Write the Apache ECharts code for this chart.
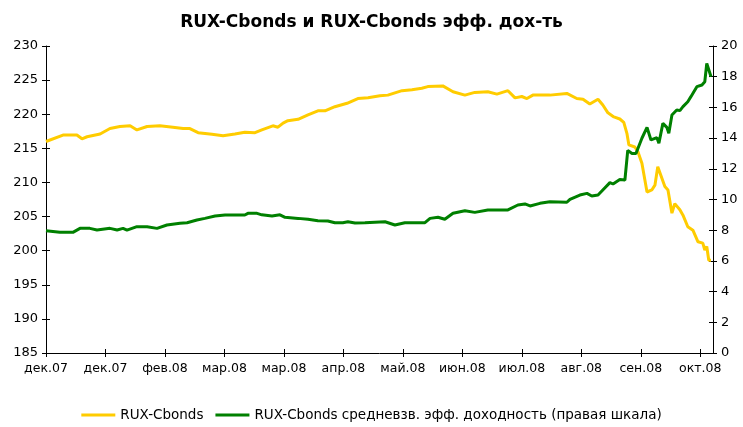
<!DOCTYPE html>
<html>
<head>
<meta charset="utf-8">
<script src="https://cdn.jsdelivr.net/npm/echarts@6/dist/echarts.min.js"></script>
<style>
  html, body { margin: 0; padding: 0; background: #fff; }
  #main { width: 743px; height: 427px; }
</style>
</head>
<body>
<div id="main"></div>
<script>
// подписи оси X (каждые 21 торговый день)
var monthLabels = ['дек.07', 'дек.07', 'фев.08', 'мар.08', 'мар.08', 'апр.08', 'май.08', 'июн.08', 'июл.08', 'авг.08', 'сен.08', 'окт.08']

// RUX-Cbonds (левая шкала): день, значение
var ruxDays = [0, 6.0, 10.9, 12.7, 14.5, 19.1, 22.6, 26.1, 29.7, 32.1, 35.7, 40.2, 44.8, 48.4, 50.8, 53.7, 58.6, 62.5, 66.7, 70.2,
  73.8, 76.2, 80.1, 81.9, 83.7, 85.4, 89.0, 92.5, 96.0, 98.5, 102.0, 106.3, 110.1, 113.7, 117.9, 120.7, 125.7, 129.2, 132.7, 134.8,
  140.1, 143.7, 147.9, 151.4, 156.0, 159.2, 163.1, 165.6, 168.0, 169.8, 171.9, 177.9, 183.9, 187.4, 189.6, 192.0, 194.9, 196.6, 198.4, 200.5,
  202.6, 204.0, 205.1, 205.8, 207.9, 209.0, 210.4, 212.2, 213.9, 215.0, 216.0, 218.5, 219.6, 221.0, 222.0, 223.8, 224.9, 226.6, 228.4, 230.2,
  231.9, 232.6, 233.3, 234.0, 234.8]
var ruxValues = [216.0, 216.95, 216.95, 216.4, 216.7, 217.1, 217.9, 218.2, 218.3, 217.7, 218.2, 218.3, 218.1, 217.9, 217.9, 217.3, 217.05, 216.85, 217.1, 217.35,
  217.3, 217.7, 218.3, 218.1, 218.7, 219.05, 219.25, 219.9, 220.5, 220.5, 221.1, 221.6, 222.3, 222.4, 222.7, 222.8, 223.45, 223.6, 223.8, 224.05,
  224.15, 223.3, 222.8, 223.2, 223.3, 222.95, 223.45, 222.4, 222.6, 222.3, 222.8, 222.8, 223.05, 222.3, 222.2, 221.5, 222.2, 221.35, 220.2, 219.6,
  219.3, 218.8, 217.2, 215.5, 215.2, 214.5, 212.8, 208.6, 208.9, 209.6, 212.3, 209.4, 208.9, 205.5, 206.9, 206.0, 205.2, 203.5, 203.0, 201.3,
  201.1, 200.1, 200.6, 198.6, 198.6]

// средневзв. эфф. доходность (правая шкала)
var yieldDays = [0, 4.9, 9.5, 12.0, 15.5, 18.0, 22.6, 25.1, 27.2, 28.6, 32.1, 35.7, 39.2, 42.7, 47.3, 49.8, 53.3, 56.1, 59.7, 63.2,
  70.2, 71.3, 74.5, 76.2, 79.8, 82.6, 84.4, 89.0, 92.5, 96.0, 99.5, 102.0, 104.8, 106.6, 109.1, 112.6, 119.7, 123.2, 126.7, 133.8,
  135.6, 138.4, 140.8, 143.7, 147.9, 151.4, 156.0, 163.1, 166.6, 169.1, 170.9, 174.4, 177.9, 183.9, 185.0, 188.5, 191.0, 192.7, 194.9, 196.6,
  199.1, 200.2, 202.6, 204.4, 205.4, 206.9, 208.3, 210.4, 212.2, 213.6, 214.3, 215.7, 216.4, 217.8, 219.2, 219.9, 221.0, 222.7, 223.8, 224.9,
  226.6, 227.7, 228.4, 229.8, 231.6, 232.6, 233.3, 234.8]
var yieldValues = [7.97, 7.86, 7.86, 8.12, 8.12, 8.01, 8.12, 8.01, 8.12, 8.0, 8.23, 8.23, 8.12, 8.34, 8.45, 8.49, 8.66, 8.77, 8.92, 8.99,
  8.99, 9.1, 9.1, 9.0, 8.92, 9.0, 8.84, 8.77, 8.71, 8.62, 8.6, 8.49, 8.49, 8.55, 8.47, 8.49, 8.55, 8.34, 8.49, 8.49,
  8.77, 8.84, 8.71, 9.1, 9.27, 9.16, 9.32, 9.32, 9.64, 9.71, 9.58, 9.75, 9.86, 9.82, 10.01, 10.29, 10.4, 10.23, 10.29, 10.62,
  11.1, 11.01, 11.3, 11.27, 13.2, 13.0, 13.0, 13.99, 14.7, 13.88, 13.99, 14.03, 13.66, 14.96, 14.7, 14.31, 15.5, 15.83, 15.79, 16.05,
  16.37, 16.7, 16.6, 17.35, 17.46, 17.67, 18.87, 18.0]

function pairs(xs, ys) {
  var out = []
  for (var i = 0; i < xs.length; i++) {
    out.push([xs[i], ys[i]])
  }
  return out
}

var myChart = echarts.init(document.getElementById('main'))
var font = 'Tahoma, "DejaVu Sans", sans-serif'
var tickOut = { show: true, length: 4, lineStyle: { color: '#000' } }
var tickIn = { show: true, inside: true, length: 4, lineStyle: { color: '#000' } }
var plotBox = { left: 46, right: 30, top: 46, bottom: 74 }

function xLabel(v) {
  var k = Math.round(v / 21)
  if (Math.abs(v - k * 21) > 0.01) return ''
  return monthLabels[k] || ''
}

var option = {
  animation: false,
  backgroundColor: '#fff',
  title: {
    text: 'RUX-Cbonds и RUX-Cbonds эфф. дох-ть',
    left: 'center',
    top: 9,
    textStyle: { fontFamily: font, fontSize: 17, fontWeight: 'bold', color: '#000' }
  },
  legend: {
    bottom: 0,
    left: 'center',
    itemWidth: 34,
    itemHeight: 3,
    itemGap: 12,
    icon: 'rect',
    textStyle: { fontFamily: font, fontSize: 13.5, color: '#000' },
    data: ['RUX-Cbonds', 'RUX-Cbonds средневзв. эфф. доходность (правая шкала)']
  },
  // вторая сетка того же размера — только для засечек внутрь (как в Excel)
  grid: [plotBox, plotBox],
  xAxis: [
    {
      type: 'value',
      gridIndex: 0,
      min: 0,
      max: 235.5,
      interval: 21,
      axisLine: { lineStyle: { color: '#000' } },
      axisTick: tickOut,
      splitLine: { show: false },
      axisLabel: {
        color: '#000',
        fontFamily: font,
        fontSize: 12.5,
        margin: 9,
        showMaxLabel: false,
        formatter: xLabel
      }
    },
    {
      type: 'value',
      gridIndex: 1,
      min: 0,
      max: 235.5,
      interval: 21,
      axisLine: { show: false },
      axisTick: tickIn,
      splitLine: { show: false },
      axisLabel: { show: false }
    }
  ],
  yAxis: [
    {
      type: 'value',
      gridIndex: 0,
      min: 185,
      max: 230,
      interval: 5,
      axisLine: { show: true, lineStyle: { color: '#000' } },
      axisTick: tickOut,
      splitLine: { show: false },
      axisLabel: { color: '#000', fontFamily: font, fontSize: 13, margin: 8 }
    },
    {
      type: 'value',
      gridIndex: 0,
      min: 0,
      max: 20,
      interval: 2,
      position: 'right',
      axisLine: { show: true, lineStyle: { color: '#000' } },
      axisTick: tickOut,
      splitLine: { show: false },
      axisLabel: { color: '#000', fontFamily: font, fontSize: 13, margin: 8 }
    },
    {
      type: 'value',
      gridIndex: 1,
      position: 'left',
      min: 185,
      max: 230,
      interval: 5,
      axisLine: { show: false },
      axisTick: tickIn,
      splitLine: { show: false },
      axisLabel: { show: false }
    },
    {
      type: 'value',
      gridIndex: 1,
      position: 'right',
      min: 0,
      max: 20,
      interval: 2,
      axisLine: { show: false },
      axisTick: tickIn,
      splitLine: { show: false },
      axisLabel: { show: false }
    }
  ],
  series: [
    {
      name: 'RUX-Cbonds',
      type: 'line',
      xAxisIndex: 0,
      yAxisIndex: 0,
      showSymbol: false,
      lineStyle: { color: '#FFCC00', width: 3 },
      itemStyle: { color: '#FFCC00' },
      data: pairs(ruxDays, ruxValues)
    },
    {
      name: 'RUX-Cbonds средневзв. эфф. доходность (правая шкала)',
      type: 'line',
      xAxisIndex: 0,
      yAxisIndex: 1,
      showSymbol: false,
      lineStyle: { color: '#008000', width: 3 },
      itemStyle: { color: '#008000' },
      data: pairs(yieldDays, yieldValues)
    }
  ]
}

myChart.setOption(option)
window.addEventListener('resize', function () {
  myChart.resize()
})
</script>
</body>
</html>
